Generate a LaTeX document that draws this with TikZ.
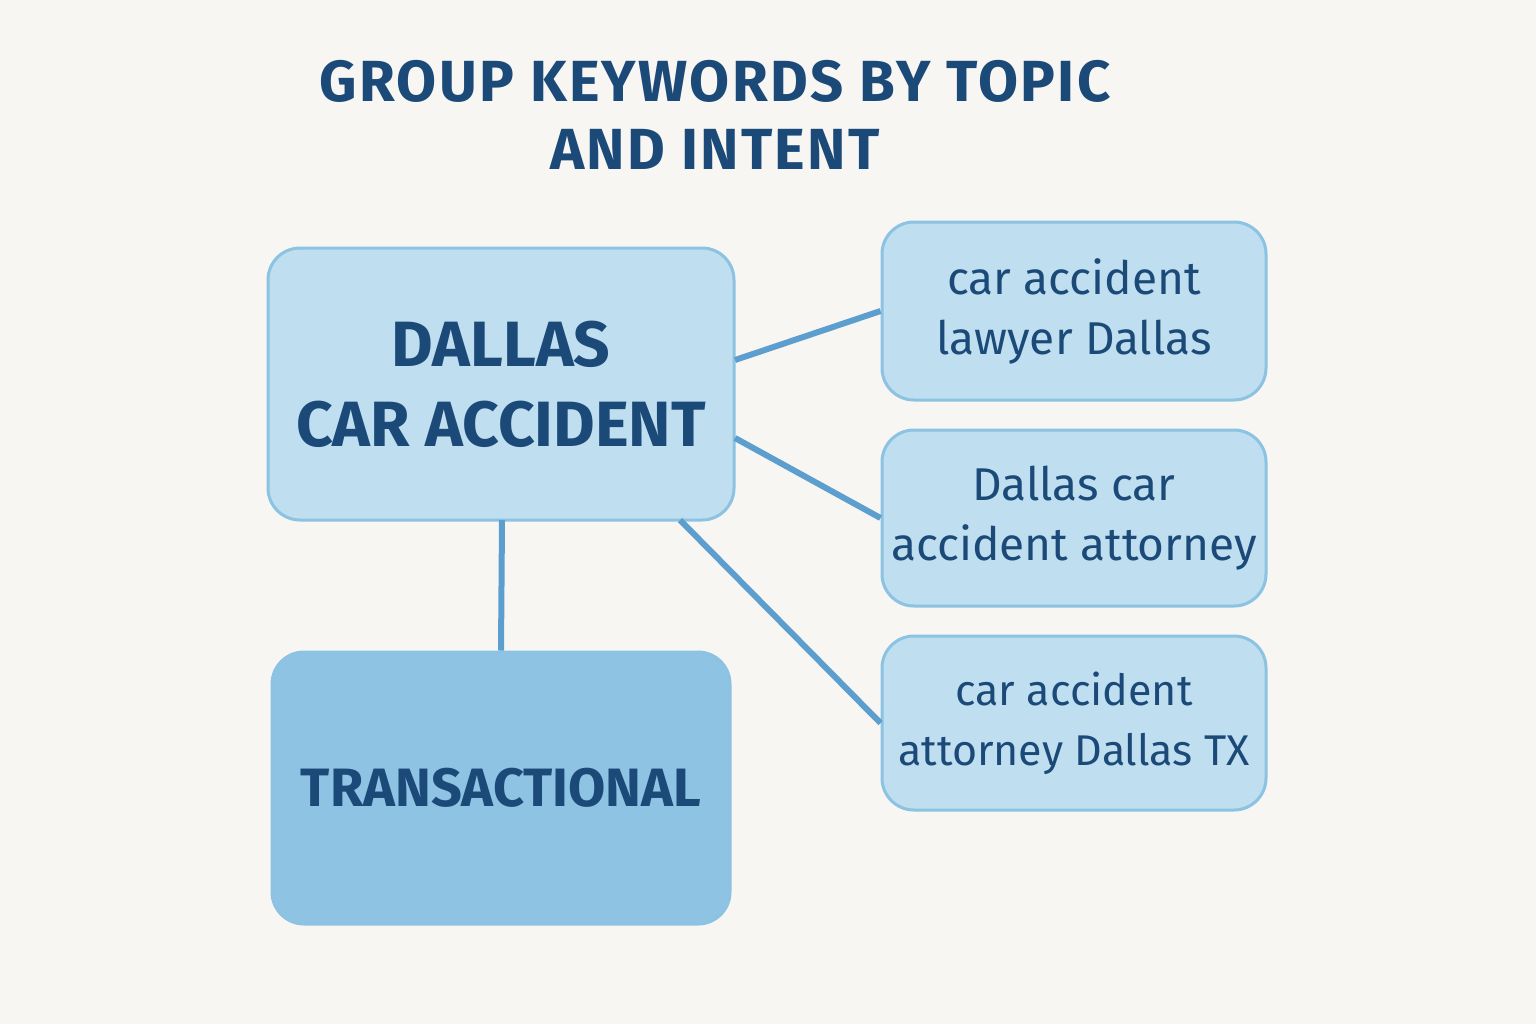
\documentclass[tikz,border=0pt]{standalone}
\usepackage{fontspec}
\setmainfont{Fira Sans}
\definecolor{bg}{HTML}{F7F6F3}
\definecolor{ink}{HTML}{1C4A78}
\definecolor{lb}{HTML}{BFDFF0}
\definecolor{mb}{HTML}{8EC3E3}
\definecolor{edge}{HTML}{8CC2E2}
\definecolor{ln}{HTML}{5C9FCF}
\begin{document}
\begin{tikzpicture}[x=0.5pt,y=-0.5pt,
  box/.style={draw=edge,line width=1.5pt,rounded corners=16pt,inner sep=0pt,text=ink,align=center},
  con/.style={draw=ln,line width=3pt}]
\useasboundingbox[fill=bg] (0,0) rectangle (1536,1024);
\node[text=ink,align=center,font=\fontsize{29}{34}\selectfont\bfseries\addfontfeature{LetterSpace=4}] (title) at (715,115) {GROUP KEYWORDS BY TOPIC\\AND INTENT};
\node[box,fill=lb,minimum width=233pt,minimum height=136pt,font=\fontsize{32}{40}\selectfont\bfseries] (main) at (501,384) {DALLAS\\CAR ACCIDENT};
\node[box,fill=lb,minimum width=192pt,minimum height=89pt,font=\fontsize{23}{30}\selectfont\mdseries] (r1) at (1074,311) {car accident\\lawyer Dallas};
\node[box,fill=lb,minimum width=192pt,minimum height=88pt,font=\fontsize{23}{30}\selectfont\mdseries] (r2) at (1074,518) {Dallas car\\accident attorney};
\node[box,fill=lb,minimum width=192pt,minimum height=87pt,font=\fontsize{21.5}{30}\selectfont\mdseries] (r3) at (1074,723) {car accident\\attorney Dallas TX};
\node[box,fill=mb,minimum width=229pt,minimum height=136pt,font=\fontsize{27}{32}\selectfont\bfseries] (tr) at (501,788) {TRANSACTIONAL};
\coordinate (m1) at (735,360);
\coordinate (m2) at (735,438);
\coordinate (m3) at (680,520);
\coordinate (m4) at (502,520);
\draw[con] (m1) -- (r1.west);
\draw[con] (m2) -- (r2.west);
\draw[con] (m3) -- (r3.west);
\draw[con] (m4) -- (tr.north);
\end{tikzpicture}
\end{document}
